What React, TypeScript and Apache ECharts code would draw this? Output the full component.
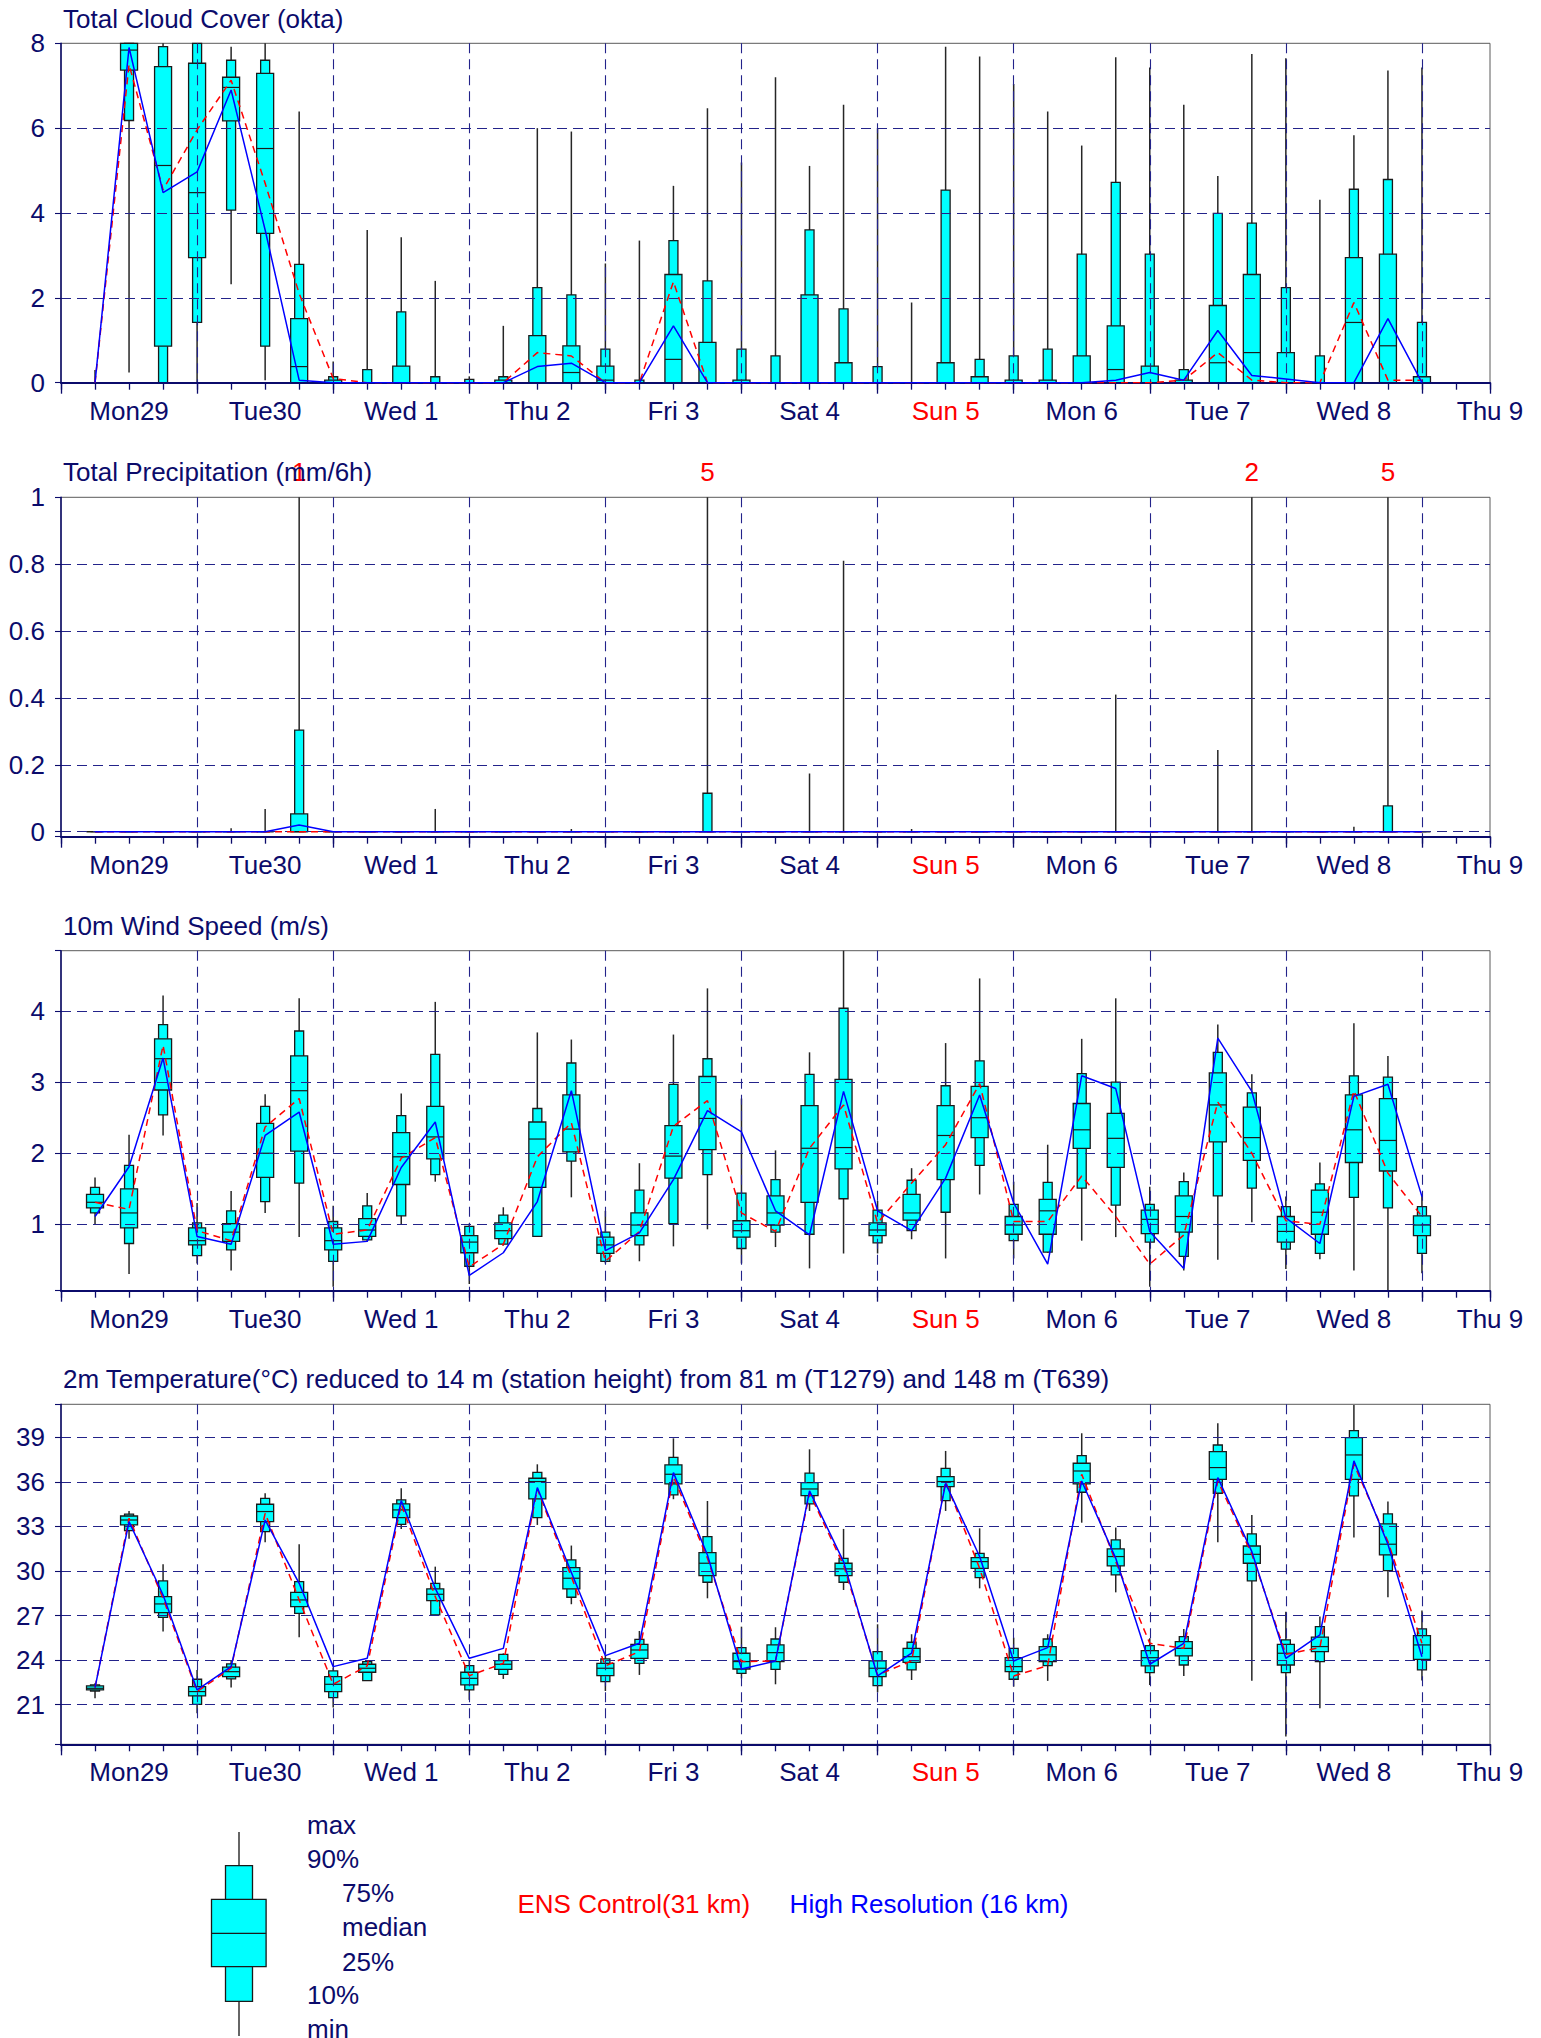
import React, { useEffect, useRef } from 'react';
import * as echarts from 'echarts';

const FONT = '"Liberation Sans", Arial, Helvetica, sans-serif';
const NAVY = '#0b0b6b';
const GRIDC = '#23238a';
const CYAN = '#00ffff';
const EDGE = '#1a1a1a';

// forecast steps (hours from Mon29 00 UTC)
const steps = [6, 12, 18, 24, 30, 36, 42, 48, 54, 60, 66, 72, 78, 84, 90, 96, 102, 108, 114, 120,
  126, 132, 138, 144, 150, 156, 162, 168, 174, 180, 186, 192, 198, 204, 210, 216, 222, 228, 234, 240];

const dayLabels = ['Mon29', 'Tue30', 'Wed 1', 'Thu 2', 'Fri 3', 'Sat 4', 'Sun 5', 'Mon 6', 'Tue 7', 'Wed 8', 'Thu 9'];
const dayLabelHours = [12, 36, 60, 84, 108, 132, 156, 180, 204, 228, 252];

// each row: [min, p10, p25, median, p75, p90, max]
const cloudBoxes = [
  [0, 0, 0, 0, 0, 0, 0.3], [0.24, 6.18, 7.37, 7.84, 8, 8, 8], [0, 0, 0.86, 5.12, 7.45, 7.92, 8], [0, 1.42, 2.95, 4.48, 7.53, 8, 8],
  [2.32, 4.07, 6.17, 6.96, 7.2, 7.6, 7.92], [0.06, 0.86, 3.52, 5.52, 7.29, 7.6, 8], [0, 0, 0, 0.38, 1.51, 2.79, 6.39], [0, 0, 0, 0, 0.06, 0.14, 0.5],
  [0, 0, 0, 0, 0, 0.31, 3.6], [0, 0, 0, 0, 0.39, 1.67, 3.43], [0, 0, 0, 0, 0, 0.14, 2.4], [0, 0, 0, 0, 0, 0.08, 0.15],
  [0, 0, 0, 0, 0.06, 0.14, 1.34], [0, 0, 0, 0, 1.11, 2.24, 6.0], [0, 0, 0, 0.24, 0.87, 2.07, 5.92], [0, 0, 0, 0.06, 0.39, 0.79, 2.81],
  [0, 0, 0, 0, 0, 0.06, 3.35], [0, 0, 0, 0.55, 2.55, 3.35, 4.64], [0, 0, 0, 0, 0.95, 2.4, 6.47], [0, 0, 0, 0, 0.06, 0.79, 5.19],
  [0, 0, 0, 0, 0, 0.63, 7.2], [0, 0, 0, 0, 2.07, 3.6, 5.11], [0, 0, 0, 0, 0.47, 1.74, 6.55], [0, 0, 0, 0, 0, 0.38, 6.0],
  [0, 0, 0, 0, 0, 0, 1.89], [0, 0, 0, 0, 0.47, 4.54, 7.92], [0, 0, 0, 0, 0.14, 0.55, 7.69], [0, 0, 0, 0, 0.06, 0.63, 7.04],
  [0, 0, 0, 0, 0.06, 0.79, 6.39], [0, 0, 0, 0, 0.63, 3.03, 5.59], [0, 0, 0, 0.31, 1.34, 4.72, 7.67], [0, 0, 0, 0, 0.39, 3.03, 7.43],
  [0, 0, 0, 0, 0.06, 0.31, 6.55], [0, 0, 0, 0.47, 1.82, 3.99, 4.87], [0, 0, 0, 0.71, 2.55, 3.76, 7.75], [0, 0, 0, 0, 0.71, 2.24, 7.65],
  [0, 0, 0, 0, 0, 0.63, 4.31], [0, 0, 0, 1.42, 2.95, 4.56, 5.83], [0, 0, 0, 0.87, 3.03, 4.79, 7.36], [0, 0, 0, 0, 0.14, 1.42, 7.43],
];
const cloudCtrl = [0, 7.5, 4.55, 5.96, 7.13, 4.7, 2.1, 0.1, 0, 0, 0, 0, 0, 0.71, 0.63, 0, 0, 2.38, 0, 0,
  0, 0, 0, 0, 0, 0, 0, 0, 0, 0, 0, 0, 0.06, 0.71, 0.06, 0, 0, 1.89, 0.06, 0.06];
const cloudHres = [0, 7.9, 4.48, 4.97, 6.9, 3.6, 0.06, 0, 0, 0, 0, 0, 0, 0.38, 0.46, 0, 0, 1.34, 0, 0,
  0, 0, 0, 0, 0, 0, 0, 0, 0, 0, 0.06, 0.24, 0.06, 1.23, 0.17, 0.09, 0, 0, 1.51, 0];

const precipBoxes = [
  [0, 0, 0, 0, 0, 0, 0], [0, 0, 0, 0, 0, 0, 0], [0, 0, 0, 0, 0, 0, 0], [0, 0, 0, 0, 0, 0, 0],
  [0, 0, 0, 0, 0, 0, 0.01], [0, 0, 0, 0, 0, 0, 0.068], [0, 0, 0, 0, 0.053, 0.304, 1.3], [0, 0, 0, 0, 0, 0, 0],
  [0, 0, 0, 0, 0, 0, 0], [0, 0, 0, 0, 0, 0, 0], [0, 0, 0, 0, 0, 0, 0.068], [0, 0, 0, 0, 0, 0, 0],
  [0, 0, 0, 0, 0, 0, 0], [0, 0, 0, 0, 0, 0, 0], [0, 0, 0, 0, 0, 0, 0.008], [0, 0, 0, 0, 0, 0, 0],
  [0, 0, 0, 0, 0, 0, 0], [0, 0, 0, 0, 0, 0, 0], [0, 0, 0, 0, 0, 0.115, 4.9], [0, 0, 0, 0, 0, 0, 0],
  [0, 0, 0, 0, 0, 0, 0], [0, 0, 0, 0, 0, 0, 0.174], [0, 0, 0, 0, 0, 0, 0.81], [0, 0, 0, 0, 0, 0, 0],
  [0, 0, 0, 0, 0, 0, 0.008], [0, 0, 0, 0, 0, 0, 0], [0, 0, 0, 0, 0, 0, 0], [0, 0, 0, 0, 0, 0, 0],
  [0, 0, 0, 0, 0, 0, 0], [0, 0, 0, 0, 0, 0, 0], [0, 0, 0, 0, 0, 0, 0.41], [0, 0, 0, 0, 0, 0, 0],
  [0, 0, 0, 0, 0, 0, 0], [0, 0, 0, 0, 0, 0, 0.244], [0, 0, 0, 0, 0, 0, 2.1], [0, 0, 0, 0, 0, 0, 0],
  [0, 0, 0, 0, 0, 0, 0], [0, 0, 0, 0, 0, 0, 0.015], [0, 0, 0, 0, 0, 0.077, 5.2], [0, 0, 0, 0, 0, 0, 0],
];
const precipCtrl = [0, 0, 0, 0, 0, 0, 0, 0, 0, 0, 0, 0, 0, 0, 0, 0, 0, 0, 0, 0,
  0, 0, 0, 0, 0, 0, 0, 0, 0, 0, 0, 0, 0, 0, 0, 0, 0, 0, 0, 0];
const precipHres = [0, 0, 0, 0, 0, 0, 0.02, 0, 0, 0, 0, 0, 0, 0, 0, 0, 0, 0, 0, 0,
  0, 0, 0, 0, 0, 0, 0, 0, 0, 0, 0, 0, 0, 0, 0, 0, 0, 0, 0, 0];

const windBoxes = [
  [0.99, 1.16, 1.23, 1.31, 1.42, 1.52, 1.66], [0.30, 0.73, 0.95, 1.16, 1.50, 1.83, 2.26], [2.25, 2.54, 2.89, 3.33, 3.61, 3.81, 4.22], [0.45, 0.56, 0.71, 0.77, 0.95, 1.02, 1.30],
  [0.35, 0.64, 0.76, 0.89, 1.01, 1.19, 1.47], [1.16, 1.32, 1.66, 2.00, 2.42, 2.66, 2.83], [0.82, 1.58, 2.03, 2.88, 3.37, 3.72, 4.18], [0.12, 0.48, 0.64, 0.77, 0.95, 1.04, 1.26],
  [0.76, 0.78, 0.83, 0.92, 1.08, 1.26, 1.44], [0.99, 1.12, 1.56, 1.95, 2.29, 2.53, 2.84], [1.60, 1.70, 1.92, 2.23, 2.66, 3.39, 4.13], [0.16, 0.41, 0.60, 0.75, 0.84, 0.97, 1.01],
  [0.70, 0.72, 0.80, 0.91, 1.02, 1.13, 1.24], [0.83, 0.83, 1.52, 2.20, 2.44, 2.63, 3.70], [1.38, 1.89, 2.02, 2.34, 2.82, 3.27, 3.60], [0.45, 0.48, 0.59, 0.71, 0.82, 0.89, 1.19],
  [0.48, 0.71, 0.84, 0.99, 1.16, 1.48, 1.86], [0.69, 1.01, 1.65, 1.96, 2.39, 2.97, 3.67], [0.93, 1.70, 2.05, 2.49, 3.08, 3.33, 4.32], [0.45, 0.66, 0.82, 0.91, 1.05, 1.44, 2.77],
  [0.68, 0.89, 0.99, 1.16, 1.40, 1.63, 2.04], [0.38, 0.86, 1.31, 2.07, 2.67, 3.11, 3.42], [0.59, 1.36, 1.78, 2.08, 3.04, 4.04, 4.85], [0.59, 0.74, 0.84, 0.92, 1.02, 1.20, 1.33],
  [0.79, 0.91, 1.06, 1.16, 1.42, 1.62, 1.79], [0.52, 1.17, 1.63, 2.25, 2.67, 2.95, 3.55], [1.42, 1.83, 2.22, 2.50, 2.94, 3.30, 4.46], [0.52, 0.77, 0.86, 0.99, 1.11, 1.28, 1.60],
  [0.60, 0.61, 0.86, 1.19, 1.35, 1.59, 2.12], [0.77, 1.51, 2.07, 2.33, 2.70, 3.12, 3.61], [0.82, 1.27, 1.80, 2.21, 2.56, 3.00, 4.18], [0.12, 0.75, 0.87, 1.07, 1.20, 1.28, 1.53],
  [0.35, 0.55, 0.89, 1.11, 1.40, 1.60, 1.73], [0.50, 1.40, 2.16, 2.68, 3.13, 3.42, 3.81], [1.03, 1.51, 1.90, 2.22, 2.65, 2.85, 3.11], [0.37, 0.65, 0.75, 0.90, 1.11, 1.25, 1.39],
  [0.51, 0.59, 0.86, 1.17, 1.48, 1.57, 1.87], [0.35, 1.38, 1.87, 2.33, 2.82, 3.09, 3.83], [0.07, 1.23, 1.75, 2.18, 2.77, 3.07, 3.37], [0.31, 0.59, 0.84, 0.99, 1.12, 1.25, 1.41],
];
const windCtrl = [1.31, 1.21, 3.52, 0.91, 0.77, 2.37, 2.77, 0.86, 0.92, 1.93, 2.22, 0.40, 0.72, 1.95, 2.43, 0.48, 0.90, 2.38, 2.74, 1.16,
  0.90, 2.07, 2.68, 1.02, 1.58, 2.12, 2.98, 1.04, 1.04, 1.68, 1.11, 0.44, 0.85, 2.72, 2.00, 1.05, 1.00, 2.88, 1.72, 1.11];
const windHres = [1.11, 1.81, 3.34, 0.83, 0.72, 2.25, 2.58, 0.72, 0.76, 1.80, 2.44, 0.28, 0.60, 1.32, 2.88, 0.63, 0.88, 1.63, 2.60, 2.30,
  1.19, 0.85, 2.87, 1.19, 0.91, 1.65, 2.82, 1.30, 0.44, 3.09, 2.91, 0.90, 0.38, 3.62, 2.87, 1.09, 0.73, 2.80, 2.97, 1.39];

const tempBoxes = [
  [21.43, 21.92, 21.99, 22.10, 22.26, 22.33, 22.44], [32.16, 32.72, 33.10, 33.43, 33.70, 33.82, 34.04], [25.92, 26.88, 27.20, 27.78, 28.27, 29.33, 30.45], [20.42, 21.02, 21.59, 21.88, 22.21, 22.71, 23.33],
  [22.15, 22.73, 22.89, 23.22, 23.52, 23.74, 24.01], [31.93, 32.65, 33.32, 34.00, 34.49, 34.89, 35.23], [25.53, 27.15, 27.60, 28.05, 28.56, 29.28, 31.80], [20.80, 21.47, 21.88, 22.37, 22.89, 23.27, 23.50],
  [22.62, 22.62, 23.18, 23.45, 23.72, 23.90, 23.94], [32.83, 33.14, 33.59, 34.11, 34.51, 34.78, 35.57], [27.04, 27.04, 28.00, 28.43, 28.79, 29.17, 30.29], [21.32, 21.99, 22.33, 22.77, 23.18, 23.63, 24.00],
  [22.73, 23.04, 23.38, 23.72, 23.96, 24.39, 24.45], [33.10, 33.59, 34.85, 36.02, 36.24, 36.64, 37.18], [27.76, 28.23, 28.79, 29.51, 30.23, 30.74, 31.71], [21.92, 22.55, 22.95, 23.45, 23.78, 24.08, 24.30],
  [23.00, 23.78, 24.12, 24.68, 25.06, 25.40, 25.96], [34.83, 35.12, 35.86, 36.51, 37.14, 37.65, 38.93], [28.16, 29.24, 29.69, 30.52, 31.24, 32.31, 34.71], [22.77, 23.11, 23.40, 23.90, 24.46, 24.84, 26.25],
  [22.37, 23.38, 23.90, 24.50, 25.02, 25.42, 26.21], [34.04, 34.51, 35.07, 35.52, 35.95, 36.58, 38.19], [28.72, 29.24, 29.69, 30.14, 30.52, 30.85, 32.83], [21.83, 22.28, 22.89, 23.45, 23.94, 24.57, 26.41],
  [22.66, 23.34, 23.85, 24.23, 24.79, 25.20, 25.74], [34.04, 34.74, 35.68, 36.02, 36.35, 36.91, 38.08], [28.83, 29.55, 30.18, 30.63, 30.90, 31.19, 32.87], [22.21, 22.71, 23.22, 23.56, 24.16, 24.79, 25.51],
  [22.60, 23.63, 23.90, 24.35, 24.91, 25.42, 25.74], [33.25, 35.30, 35.86, 36.73, 37.25, 37.77, 39.27], [28.56, 29.73, 30.34, 30.97, 31.48, 32.09, 32.92], [22.33, 23.16, 23.61, 24.16, 24.64, 24.97, 25.47],
  [22.93, 23.67, 24.28, 24.79, 25.24, 25.58, 26.10], [31.93, 35.23, 36.17, 36.96, 38.04, 38.48, 39.94], [22.60, 29.33, 30.52, 31.12, 31.68, 32.49, 33.77], [18.85, 23.16, 23.67, 24.46, 25.06, 25.36, 27.26],
  [20.75, 23.90, 24.57, 24.91, 25.54, 26.25, 26.93], [32.25, 35.05, 36.17, 37.81, 38.98, 39.45, 41.18], [28.23, 30.02, 31.08, 31.80, 33.17, 33.84, 34.67], [22.62, 23.34, 24.05, 25.02, 25.65, 26.10, 27.33],
];
const tempCtrl = [22.15, 33.55, 28.16, 21.88, 23.45, 33.88, 28.05, 22.37, 23.61, 34.49, 28.27, 22.95, 23.78, 35.52, 29.6, 23.61, 24.57, 36.35, 30.85, 23.90,
  23.94, 35.23, 30.40, 23.00, 23.94, 36.02, 30.18, 22.93, 23.63, 36.51, 30.63, 25.13, 24.79, 36.06, 31.12, 24.39, 24.84, 37.18, 31.98, 25.13];
const tempHres = [22.15, 33.32, 28.38, 21.99, 23.56, 33.43, 29.17, 23.56, 24.12, 34.74, 28.83, 24.12, 24.79, 35.61, 29.9, 24.30, 25.13, 36.62, 31.08, 23.40,
  23.94, 35.39, 30.63, 22.93, 24.46, 35.90, 30.97, 23.94, 24.84, 36.06, 30.85, 23.72, 25.13, 36.28, 31.30, 24.12, 25.69, 37.41, 31.80, 24.23];

const panels = [
  { title: 'Total Cloud Cover (okta)', titleY: 18.5, top: 43.3, height: 339.4, min: 0, max: 8, step: 2, boxes: cloudBoxes, ctrl: cloudCtrl, hres: cloudHres, overflow: false },
  { title: 'Total Precipitation (mm/6h)', titleY: 472.2, top: 497.3, height: 339.4, min: -0.015, max: 1, step: 0.2, boxes: precipBoxes, ctrl: precipCtrl, hres: precipHres, overflow: true },
  { title: '10m Wind Speed (m/s)', titleY: 925.6, top: 950.7, height: 340, min: 0.066, max: 4.85, step: 1, boxes: windBoxes, ctrl: windCtrl, hres: windHres, overflow: false },
  { title: '2m Temperature(°C) reduced to 14 m (station height) from 81 m (T1279) and 148 m (T639)', titleY: 1379, top: 1404.3, height: 340, min: 18.33, max: 41.22, step: 3, boxes: tempBoxes, ctrl: tempCtrl, hres: tempHres, overflow: false },
];

const makeBoxRenderer = (yMin: number, yMax: number, overflow: boolean) => (params: any, api: any) => {
  const h = api.value(0);
  const v = [1, 2, 3, 4, 5, 6, 7].map((i) => api.value(i));
  const c = (val: number) => api.coord([h, Math.max(yMin, Math.min(yMax, val))]);
  const x = c(v[0])[0];
  const yLo = c(v[0])[1];
  const y10 = c(v[1])[1];
  const y25 = c(v[2])[1];
  const y50 = c(v[3])[1];
  const y75 = c(v[4])[1];
  const y90 = c(v[5])[1];
  const yHi = c(v[6])[1];
  const nw = 9;
  const ww = 17;
  const children: any[] = [
    { type: 'line', shape: { x1: x, y1: yHi, x2: x, y2: yLo }, style: { stroke: '#262626', lineWidth: 1.5 } },
    { type: 'rect', shape: { x: x - nw / 2, y: y90, width: nw, height: y10 - y90 }, style: { fill: CYAN, stroke: EDGE, lineWidth: 1.3 } },
    { type: 'rect', shape: { x: x - ww / 2, y: y75, width: ww, height: y25 - y75 }, style: { fill: CYAN, stroke: EDGE, lineWidth: 1.3 } },
    { type: 'line', shape: { x1: x - ww / 2, y1: y50, x2: x + ww / 2, y2: y50 }, style: { stroke: EDGE, lineWidth: 1.2 } },
  ];
  if (overflow && v[6] > yMax) {
    const top = api.coord([h, yMax])[1];
    children.push({
      type: 'text', x, y: top - 25.6,
      style: { text: String(Math.round(v[6])), fill: '#ff0000', font: `26px ${FONT}`, align: 'center', verticalAlign: 'middle', textAlign: 'center', textVerticalAlign: 'middle' },
    });
  }
  return { type: 'group', children };
};

const fmtY = (step: number) => (v: number) => {
  const r = Math.round(v / step) * step;
  if (Math.abs(v - r) > step * 1e-3) return '';
  return String(Math.round(r * 10) / 10);
};

function buildOption() {
  const grids: any[] = [];
  const xAxes: any[] = [];
  const yAxes: any[] = [];
  const series: any[] = [];
  panels.forEach((p, i) => {
    grids.push({ left: 61, top: p.top, width: 1429, height: p.height, show: true, borderColor: '#5a5a5a', borderWidth: 1, backgroundColor: 'transparent' });
    xAxes.push({
      type: 'value', gridIndex: i, position: 'bottom', min: 0, max: 252, interval: 6, z: 3,
      axisLine: { show: true, onZero: false, lineStyle: { color: NAVY, width: 2 } },
      axisTick: { show: true, length: 7, lineStyle: { color: NAVY, width: 1.3 } },
      splitLine: { show: false },
      axisLabel: {
        show: true, margin: 15, color: NAVY, fontSize: 26, fontFamily: FONT, lineHeight: 26, showMinLabel: true, showMaxLabel: true, hideOverlap: false,
        formatter: (v: number) => {
          const k = dayLabelHours.indexOf(Math.round(v));
          if (k < 0) return '';
          return dayLabels[k] === 'Sun 5' ? '{r|Sun 5}' : dayLabels[k];
        },
        rich: { r: { color: '#ff0000', fontSize: 26, fontFamily: FONT, lineHeight: 26 } },
      },
    });
    xAxes.push({
      type: 'value', gridIndex: i, position: 'bottom', min: 0, max: 252, interval: 24, z: 3,
      axisLine: { show: false, onZero: false },
      axisTick: { show: true, length: 11, lineStyle: { color: NAVY, width: 1.3 } },
      axisLabel: { show: false },
      splitLine: { show: true, showMinLine: false, showMaxLine: false, lineStyle: { color: GRIDC, width: 1.1, type: [10, 6] } },
    });
    yAxes.push({
      type: 'value', gridIndex: i, min: p.min, max: p.max, minInterval: p.step, maxInterval: p.step, z: 3,
      axisLine: { show: true, onZero: false, lineStyle: { color: NAVY, width: 1.5 } },
      axisTick: { show: true, length: 6, lineStyle: { color: NAVY, width: 1.1 } },
      axisLabel: { show: true, margin: 16, color: NAVY, fontSize: 26, fontFamily: FONT, formatter: fmtY(p.step), showMinLabel: true, showMaxLabel: true },
      splitLine: { show: true, showMinLine: false, showMaxLine: false, lineStyle: { color: GRIDC, width: 1.1, type: [10, 6] } },
    });
    series.push({
      type: 'custom', xAxisIndex: 2 * i, yAxisIndex: i, z: 2,
      renderItem: makeBoxRenderer(p.min, p.max, p.overflow),
      encode: { x: 0, y: [1, 2, 3, 4, 5, 6, 7] },
      data: p.boxes.map((r, k) => [steps[k], ...r]),
    });
    series.push({
      type: 'line', xAxisIndex: 2 * i, yAxisIndex: i, z: 4, symbol: 'none', showSymbol: false,
      lineStyle: { color: '#ff0000', width: 1.5, type: [7, 5] },
      data: p.ctrl.map((v, k) => [steps[k], v]),
    });
    series.push({
      type: 'line', xAxisIndex: 2 * i, yAxisIndex: i, z: 5, symbol: 'none', showSymbol: false,
      lineStyle: { color: '#0000ff', width: 1.5 },
      data: p.hres.map((v, k) => [steps[k], v]),
    });
  });

  const txt = (text: string, x: number, y: number, fill: string) => ({
    type: 'text', x, y, z: 10,
    style: { text, fill, font: `26px ${FONT}`, align: 'left', verticalAlign: 'middle', textAlign: 'left', textVerticalAlign: 'middle' },
  });

  const graphic: any[] = [
    ...panels.map((p) => txt(p.title, 63, p.titleY, NAVY)),
    { type: 'line', z: 10, shape: { x1: 239, y1: 1832, x2: 239, y2: 2036 }, style: { stroke: '#333', lineWidth: 1.5 } },
    { type: 'rect', z: 11, shape: { x: 225.5, y: 1865.7, width: 27, height: 135.6 }, style: { fill: CYAN, stroke: EDGE, lineWidth: 1.3 } },
    { type: 'rect', z: 12, shape: { x: 211.5, y: 1899.3, width: 54.6, height: 67.4 }, style: { fill: CYAN, stroke: EDGE, lineWidth: 1.3 } },
    { type: 'line', z: 13, shape: { x1: 211.5, y1: 1933.3, x2: 266.1, y2: 1933.3 }, style: { stroke: EDGE, lineWidth: 1.3 } },
    txt('max', 307, 1825, NAVY),
    txt('90%', 307, 1859.3, NAVY),
    txt('75%', 342, 1893.3, NAVY),
    txt('median', 342, 1927, NAVY),
    txt('25%', 342, 1961.7, NAVY),
    txt('10%', 307, 1995, NAVY),
    txt('min', 307, 2029.3, NAVY),
    txt('ENS Control(31 km)', 517.5, 1904, '#ff0000'),
    txt('High Resolution (16 km)', 789.6, 1904, '#0000ff'),
  ];

  return {
    animation: false,
    backgroundColor: '#ffffff',
    textStyle: { fontFamily: FONT },
    grid: grids,
    xAxis: xAxes,
    yAxis: yAxes,
    series,
    graphic,
  };
}

export default function App() {
  const ref = useRef<HTMLDivElement>(null);
  useEffect(() => {
    if (!ref.current) return;
    const chart = echarts.init(ref.current, undefined, { renderer: 'svg' });
    chart.setOption(buildOption() as any);
    return () => chart.dispose();
  }, []);
  return <div ref={ref} style={{ position: 'absolute', left: 0, top: 0, width: 1541, height: 2038, background: '#fff' }} />;
}
